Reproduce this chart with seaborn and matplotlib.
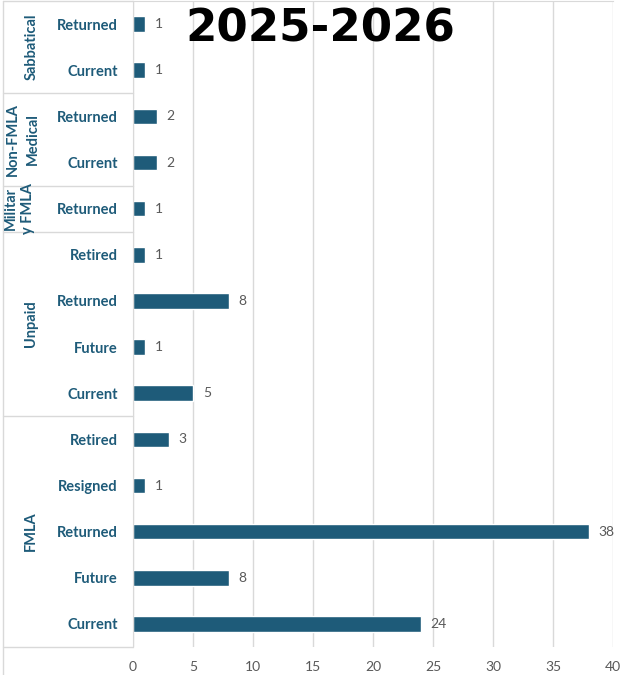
import pandas as pd
import numpy as np
import matplotlib.pyplot as plt
import seaborn as sns

# leave types (groups) and status rows, top to bottom
groups = ["Sabbatical", "Sabbatical",
          "Non-FMLA Medical", "Non-FMLA Medical",
          "Military FMLA",
          "Unpaid", "Unpaid", "Unpaid", "Unpaid",
          "FMLA", "FMLA", "FMLA", "FMLA", "FMLA"]
status = ["Returned", "Current",
          "Returned", "Current",
          "Returned",
          "Retired", "Returned", "Future", "Current",
          "Retired", "Resigned", "Returned", "Future", "Current"]
counts = [1, 1, 2, 2, 1, 1, 8, 1, 5, 3, 1, 38, 8, 24]

# group labels as they wrap in the chart
group_lines = [["Sabbatical"], ["Non-FMLA", "Medical"], ["Militar", "y FMLA"],
               ["Unpaid"], ["FMLA"]]

df = pd.DataFrame({"group": groups, "status": status, "count": counts})
df["key"] = df["group"] + "|" + df["status"]

sns.set_style("white")
plt.rcParams["font.family"] = ["Lato", "DejaVu Sans"]

teal = "#1e5b79"
gray_txt = "#595959"
line_c = "#d9d9d9"

fig = plt.figure(figsize=(6.22, 6.75), dpi=100)
ax = fig.add_axes([133 / 622, 28 / 675, 480 / 622, 646 / 675])

sns.barplot(data=df, x="count", y="key", order=list(df["key"]), color=teal,
            width=0.34, orient="h", ax=ax, saturation=1)

ax.bar_label(ax.containers[0], padding=7, color=gray_txt, fontsize=10)

ax.set_xlim(0, 40)
ax.set_xticks(np.arange(0, 41, 5))
ax.set_xlabel("")
ax.set_ylabel("")
ax.set_yticks(range(len(status)))
ax.set_yticklabels(status, fontweight="bold", color=teal, fontsize=10.5)
ax.tick_params(axis="y", length=0, pad=11)
ax.tick_params(axis="x", length=0, pad=10, colors=gray_txt, labelsize=10)
ax.xaxis.grid(True, color=line_c, linewidth=1)
ax.set_axisbelow(True)
for s in ["right", "bottom"]:
    ax.spines[s].set_visible(False)
ax.spines["top"].set_color(line_c)
ax.spines["left"].set_color(line_c)

# grouped category frame
trans = ax.get_yaxis_transform()
left_x = (3 - 133) / 480
for yb in [-0.5, 1.5, 3.5, 4.5, 8.5, 13.5]:
    ax.plot([left_x, 0], [yb, yb], color=line_c, lw=1, transform=trans, clip_on=False)
ax.plot([left_x, left_x], [-0.5, 14.2], color=line_c, lw=1, transform=trans, clip_on=False)

spans = [(-0.5, 1.5), (1.5, 3.5), (3.5, 4.5), (4.5, 8.5), (8.5, 13.5)]
xpos = [[32], [13, 33], [11, 28], [31], [31]]
for lines, (a, b), xps in zip(group_lines, spans, xpos):
    for txt, xp in zip(lines, xps):
        ax.text((xp - 133) / 480, (a + b) / 2, txt, transform=trans, rotation=90,
                ha="center", va="center", fontweight="bold", color=teal, fontsize=10.5)

ax.set_ylim(13.5, -0.5)

fig.text(320 / 622, 1 - 29 / 675, "2025-2026", ha="center", va="center",
         fontsize=32.5, fontweight="bold", color="black", family="DejaVu Sans")

plt.savefig("out.png", dpi=100)
